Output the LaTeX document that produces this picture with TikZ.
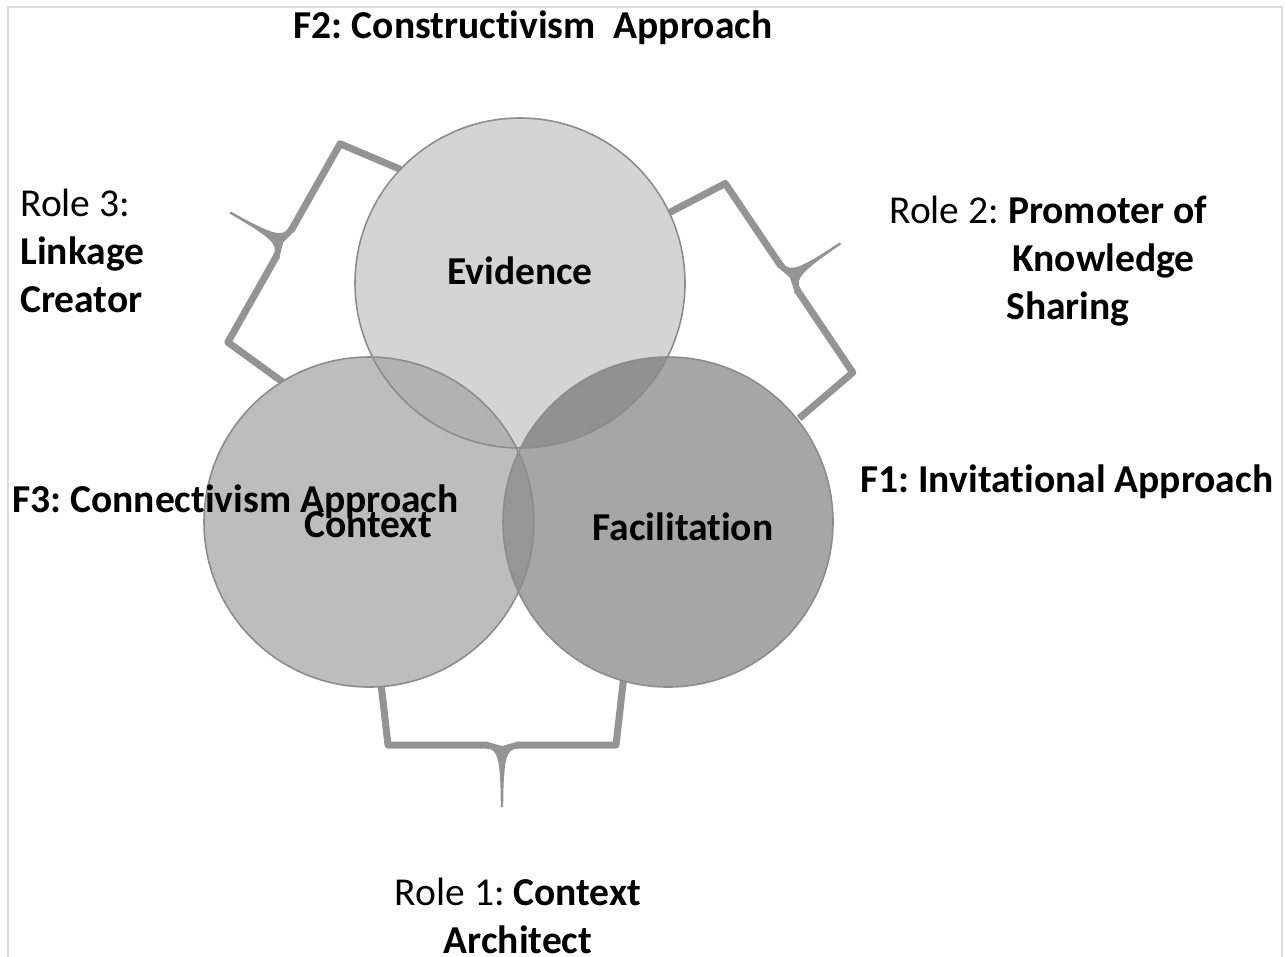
\documentclass[tikz,border=0pt]{standalone}
\usepackage{fontspec}
\setmainfont{Carlito}[Ligatures=NoCommon]
\usepackage{tikz}
\frenchspacing

\definecolor{evidgray}{gray}{0.83}
\definecolor{ctxgray}{gray}{0.74}
\definecolor{facgray}{gray}{0.65}
\definecolor{evctxgray}{gray}{0.70}
\definecolor{evfacgray}{gray}{0.57}
\definecolor{ctxfacgray}{gray}{0.59}
\definecolor{rimgray}{gray}{0.55}
\definecolor{bracegray}{gray}{0.58}
\definecolor{framegray}{gray}{0.86}

\begin{document}
\begin{tikzpicture}[
    x=0.2mm, y=-0.2mm,
    disc/.style={circle, minimum size=66mm, inner sep=0pt},
    rim/.style={draw=rimgray, line width=0.9pt},
    lbl/.style={font=\fontsize{22.5}{27.3}\selectfont\bfseries, inner sep=0pt},
    role/.style={font=\fontsize{22.5}{27.3}\selectfont, inner sep=0pt, align=left},
    bracestroke/.style={draw=bracegray, line width=4pt, line join=round},
    brace/.pic={
        \draw[bracestroke] (-122,-70) -- (-114,0) -- (-14,0);
        \draw[bracestroke] (14,0) -- (114,0) -- (122,-70);
        % the pointed middle of the brace
        \fill[bracegray] (-16,-3.5) -- (0,1) -- (16,-3.5) -- (16,3.5)
            .. controls (4,3.5) and (1.5,14) .. (1.2,62) -- (-1.2,62)
            .. controls (-1.5,14) and (-4,3.5) .. (-16,3.5) -- cycle;
    }
]

\useasboundingbox (0,0) rectangle (1285,956);
\fill[white] (0,0) rectangle (1285,956);
\draw[framegray, line width=0.5mm] (8,990) -- (8,7) -- (1282,7) -- (1282,990);

% Braces (drawn first, the circles cover their ends)
\pic at (502,745) {brace};
\pic[rotate=-119.5] at (284,243) {brace};
\pic[rotate=124] at (789,278) {brace};

% Circles
\node[disc, fill=ctxgray] (ctx) at (369,522) {};
\node[disc, fill=facgray] (fac) at (668,522) {};
\node[disc, fill=evidgray] (evid) at (520,283) {};

% Overlaps
\begin{scope}
  \clip (evid.center) circle (165);
  \fill[evctxgray] (ctx.center) circle (165);
  \fill[evfacgray] (fac.center) circle (165);
\end{scope}
\begin{scope}
  \clip (ctx.center) circle (165);
  \fill[ctxfacgray] (fac.center) circle (165);
\end{scope}

\foreach \c in {ctx,fac,evid}
  \draw[rim] (\c.center) circle (165);

% Circle labels
\node[lbl, anchor=base] (evidtxt) at (520,284) {Evidence};
\node[lbl, anchor=base] (ctxtxt) at (368,537) {Context};
\node[lbl, anchor=base] (factxt) at (683,540) {Facilitation};

% Approaches
\node[lbl, anchor=base] (f2) at (533,38) {F2: Constructivism\ \ Approach};
\node[lbl, anchor=base west] (f1) at (860,492) {F1: Invitational Approach};
\node[lbl, anchor=base west] (f3) at (12,512) {F3: Connectivism Approach};

% Roles (base = last line)
\node[role, anchor=base west] (role3) at (20,312)
  {Role 3:\\\textbf{Linkage}\\\textbf{Creator}};
\node[role, anchor=base west] (role2) at (889,319)
  {Role 2: \textbf{Promoter of}\\\hspace*{24.6mm}\textbf{Knowledge}\\\hspace*{23.4mm}\textbf{Sharing}};
\node[role, align=center, anchor=base] (role1) at (518,953)
  {Role 1: \textbf{Context}\\\textbf{Architect}};

\end{tikzpicture}
\end{document}
